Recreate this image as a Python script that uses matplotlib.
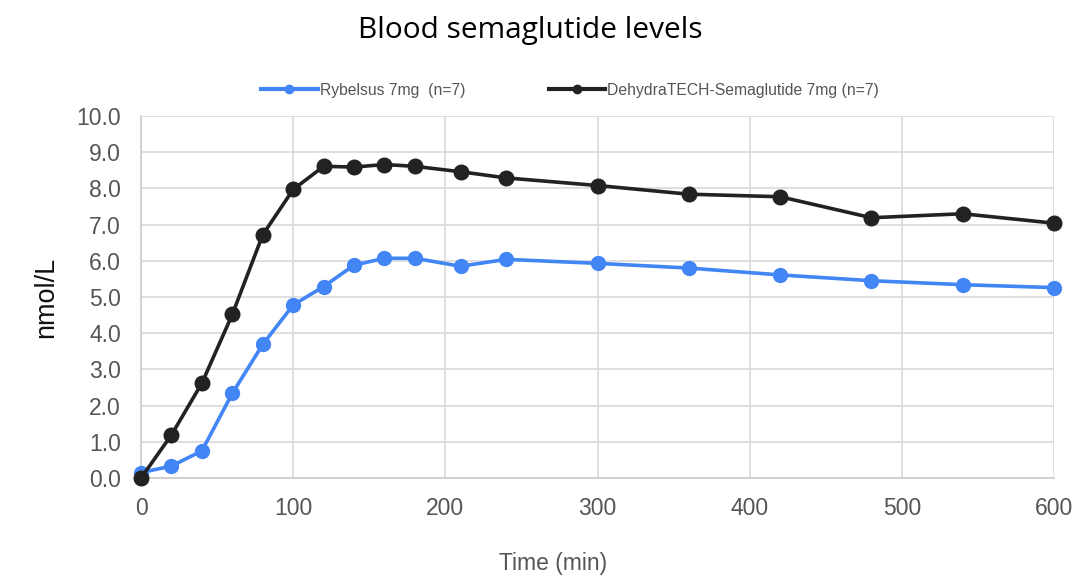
import matplotlib.pyplot as plt
from matplotlib.lines import Line2D

# time points (min) and mean levels (nmol/L)
time_min = [0, 20, 40, 60, 80, 100, 120, 140, 160, 180, 210, 240, 300, 360, 420, 480, 540, 600]
rybelsus = [0.15, 0.33, 0.75, 2.34, 3.69, 4.78, 5.29, 5.88, 6.07, 6.07, 5.85, 6.04,
            5.93, 5.80, 5.61, 5.45, 5.34, 5.26]
dehydratech = [0.0, 1.19, 2.62, 4.52, 6.72, 7.97, 8.61, 8.59, 8.66, 8.61, 8.46, 8.29,
               8.08, 7.84, 7.77, 7.19, 7.30, 7.04]

labels = ['Rybelsus 7mg  (n=7)', 'DehydraTECH-Semaglutide 7mg (n=7)']
colors = ['#4285F4', '#222222']
y_ticks = [i * 1.0 for i in range(11)]
x_ticks = [0, 100, 200, 300, 400, 500, 600]

plt.rcParams['font.family'] = ['Liberation Sans', 'DejaVu Sans']

fig = plt.figure(figsize=(10.89, 5.76), dpi=100)
ax = fig.add_axes([0.1295, 0.1701, 0.8384, 0.6285])

ax.plot(time_min, rybelsus, color=colors[0], lw=2.6, marker='o', markersize=10,
        clip_on=False, zorder=3)
ax.plot(time_min, dehydratech, color=colors[1], lw=2.6, marker='o', markersize=10.5,
        clip_on=False, zorder=4)

ax.set_xlim(0, 600)
ax.set_ylim(0, 10)
ax.set_xticks(x_ticks)
ax.set_yticks(y_ticks)
ax.set_yticklabels([f'{v:.1f}' for v in y_ticks])
ax.tick_params(length=0, labelsize=16.5, colors='#555555')
ax.tick_params(axis='y', pad=14.5)
ax.tick_params(axis='x', pad=13.5)

ax.grid(True, color='#d9d9d9', lw=1.2)
ax.set_axisbelow(True)
for s in ['top', 'right']:
    ax.spines[s].set_visible(False)
for s in ['left', 'bottom']:
    ax.spines[s].set_color('#cccccc')
    ax.spines[s].set_linewidth(1.2)

ax.set_ylabel('nmol/L', fontsize=19.5, labelpad=12, color='#111111')
ax.set_xlabel('Time (min)', fontsize=16.5, color='#555555')
ax.xaxis.set_label_coords(0.451, -0.235)
ax.xaxis.label.set_va('center')

fig.suptitle('Blood semaglutide levels', fontsize=21.5, y=0.972,
             family=['Open Sans', 'DejaVu Sans'], x=0.487)

handles = [Line2D([0], [0], color=c, lw=3, marker='o', markersize=6) for c in colors]
ax.legend(handles, labels, loc='lower center', bbox_to_anchor=(0.47, 1.012), ncol=2,
          frameon=False, fontsize=11.3, handlelength=3.6, columnspacing=5.3,
          labelcolor='#555555', handletextpad=0.15)

fig.savefig('out.png', dpi=100)
